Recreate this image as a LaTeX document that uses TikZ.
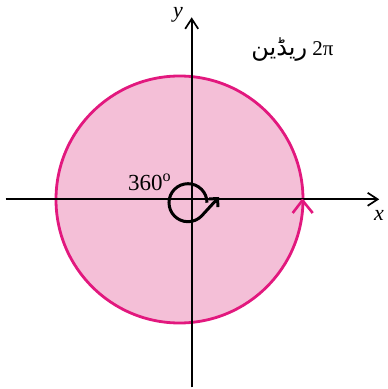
\documentclass[tikz,border=0pt]{standalone}
\usepackage{fontspec}
\setmainfont{Liberation Serif}
\newfontfamily\urdufont[Script=Arabic]{DejaVu Sans}
\TeXXeTstate=1
\usetikzlibrary{arrows.meta}
\definecolor{diskfill}{RGB}{244,191,215}
\definecolor{diskline}{RGB}{226,24,126}
\begin{document}
\begin{tikzpicture}[scale=0.3515,
    axis/.style={line width=1.7pt,-{Straight Barb[length=10pt,width=13pt]}},
    lbl/.style={font=\fontsize{22}{24}\selectfont\itshape,inner sep=1pt}]
  \useasboundingbox (-19.17,-18.97) rectangle (19.53,19.93);
  % disc
  \fill[diskfill] (-1.22,-0.02) circle (12.35);
  \draw[diskline,line width=2.8pt] (-1.22,-0.02) circle (12.35);
  % axes
  \coordinate (xs) at (-18.6,0);
  \coordinate (xe) at (18.75,0);
  \coordinate (ys) at (0,-18.8);
  \coordinate (ye) at (0,18.2);
  \draw[axis] (xs) -- (xe);
  \draw[axis] (ys) -- (ye);
  \draw[diskline,line width=2.6pt,line join=round] (10.1,-1.37) -- (11.07,-0.1) -- (12.1,-1.37);
  \node[lbl] (xlbl) at (18.73,-1.57) {x};
  \node[lbl] (ylbl) at (-1.37,18.45) {y};
  % turn of 360 degrees
  \draw[line width=3pt,-{Straight Barb[length=6pt,width=12pt]}]
    (1.53,-0.34) arc (0:315:1.9) -- (2.73,0.23);
  \node[font=\fontsize{23}{25}\selectfont,anchor=base west,inner sep=0] (deg)
    at (-6.37,0.86) {360\textsuperscript{o}};
  \node[font=\fontsize{21}{23}\selectfont] (rad) at (10.08,15.0)
    {\beginR\beginL 2π\endL{} {\urdufont\fontsize{24}{26}\selectfont ریڈین}\endR};
\end{tikzpicture}
\end{document}
